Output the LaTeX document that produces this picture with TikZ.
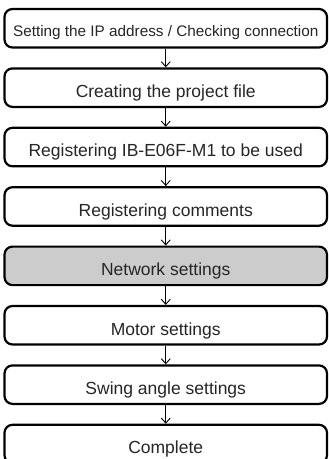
\documentclass[tikz,border=0pt]{standalone}
\usepackage{fontspec}
\setmainfont{Liberation Sans}
\usetikzlibrary{arrows.meta}
\begin{document}
\begin{tikzpicture}[x=1pt,y=-1pt,
  stepbox/.style={draw=black, line width=2.2pt, rounded corners=8pt, fill=white,
    minimum width=322.5pt, inner xsep=0pt, inner ysep=0pt,
    text height=29pt, text depth=9.5pt, text=black!85,
    font=\fontsize{17.5}{20}\selectfont},
  firstbox/.style={stepbox, font=\fontsize{15.3}{18}\selectfont, text height=27.5pt, text depth=11pt},
  hibox/.style={stepbox, fill=gray!40},
  flow/.style={draw=black, line width=0.9pt, -{Straight Barb[length=5pt,width=9pt,line width=0.9pt]}}
]
\useasboundingbox (0,0) rectangle (329,459);
\begin{scope}
\clip (0,0) rectangle (329,459);
\node[firstbox] (b1) at (165.75, 28.25) {Setting the IP address / Checking connection};
\node[stepbox] (b2) at (165.75, 87.65) {Creating the project file};
\node[stepbox] (b3) at (165.75, 147.05) {Registering IB-E06F-M1 to be used};
\node[stepbox] (b4) at (165.75, 206.45) {Registering comments};
\node[hibox] (b5) at (165.75, 265.85) {Network settings};
\node[stepbox] (b6) at (165.75, 325.25) {Motor settings};
\node[stepbox] (b7) at (165.75, 384.65) {Swing angle settings};
\node[stepbox] (b8) at (165.75, 444.05) {Complete};
\foreach \a/\b in {b1/b2,b2/b3,b3/b4,b4/b5,b5/b6,b6/b7,b7/b8}
  \draw[flow] (\a.south) -- (\b.north);
\end{scope}
\end{tikzpicture}
\end{document}
